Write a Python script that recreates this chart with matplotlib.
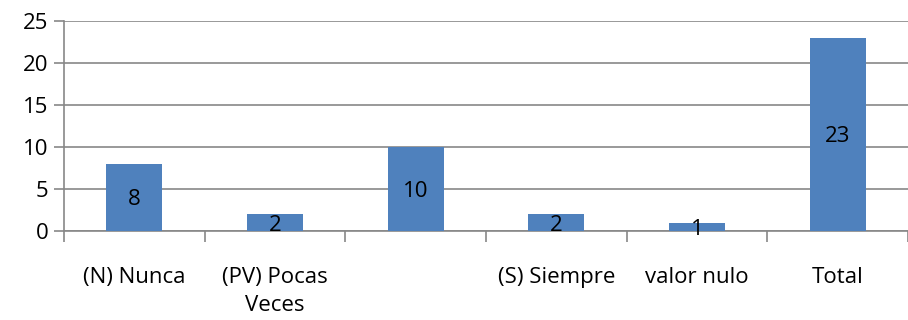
import numpy as np
import matplotlib
matplotlib.use("Agg")
from matplotlib import pyplot as plt

categories = ["(N) Nunca", "(PV) Pocas\nVeces", "", "(S) Siempre", "valor nulo", "Total"]
values = [8, 2, 10, 2, 1, 23]
yticks = [0, 5, 10, 15, 20, 25]

plt.rcParams['font.family'] = ['Open Sans', 'DejaVu Sans']
grid_col = '#878787'
fs = 16

fig = plt.figure(figsize=(9.08, 3.2), dpi=100)
# plot area: x 64..908 px, y 21..231 px (from top)
ax = fig.add_axes([64/908, 89/320, (908-64)/908, 210/320])

x = np.arange(len(values))
ax.bar(x, values, width=0.4, color='#4F81BD', zorder=3)
for xi, v in zip(x, values):
    ax.text(xi, v/2, str(v), ha='center', va='center_baseline', fontsize=fs, color='black', zorder=4)

ax.set_ylim(0, 25)
ax.set_xlim(-0.5, 5.5 - 8/142)
ax.set_yticks(yticks)
ax.set_yticklabels([str(t) for t in yticks], fontsize=fs)
ax.yaxis.grid(True, color=grid_col, linewidth=1.2, zorder=0)

# category labels centred, tick marks on boundaries
ax.set_xticks(x)
ax.set_xticklabels(categories, fontsize=fs, linespacing=1.4)
ax.tick_params(axis='x', length=0, pad=26)
ax.set_xticks(np.arange(-0.5, 6.5, 1), minor=True)
ax.tick_params(axis='x', which='minor', length=8, color=grid_col, width=1.2)
ax.tick_params(axis='y', length=7, color=grid_col, width=1.2, pad=4)

for s in ['top', 'right']:
    ax.spines[s].set_visible(False)
ax.spines['left'].set_color(grid_col)
ax.spines['bottom'].set_color(grid_col)
ax.spines['left'].set_linewidth(1.2)
ax.spines['bottom'].set_linewidth(1.2)

fig.savefig("out.png", dpi=100)
